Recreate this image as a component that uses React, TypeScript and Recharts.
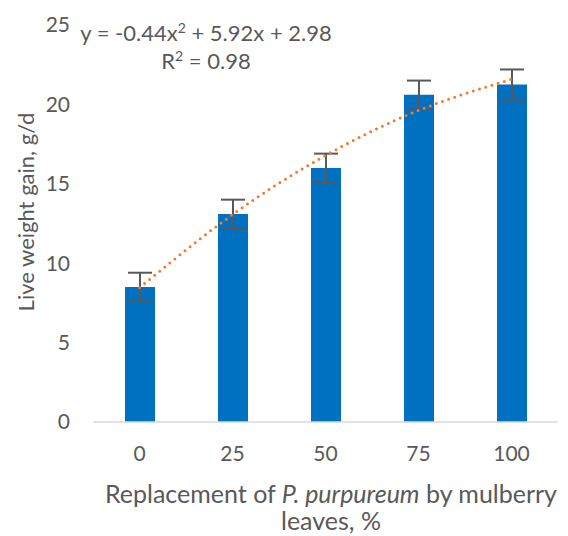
import React from 'react';
import { ComposedChart, Bar, Line, XAxis, YAxis, ErrorBar } from 'recharts';

// replacement level, %
const levels = ['0', '25', '50', '75', '100'];
// live weight gain, g/d
const gain = [8.5, 13.1, 16.0, 20.6, 21.25];
// standard error
const errors = [0.9, 0.9, 0.9, 0.9, 0.95];
// fitted polynomial trend, read at each level
const trend = [8.46, 13.06, 16.78, 19.62, 21.58];
const yTicks = [0, 5, 10, 15, 20, 25];

const textColor = '#595959';
const font = 'Lato, "Open Sans", sans-serif';

const data = levels.map((l, i) => ({
  level: l,
  gain: gain[i],
  err: errors[i],
  trend: trend[i],
}));

export default function App() {
  return (
    <div style={{ position: 'absolute', left: 0, top: 0, width: 568, height: 536, background: '#fff', fontFamily: font, overflow: 'hidden' }}>
      <ComposedChart
        width={568}
        height={536}
        data={data}
        margin={{ top: 25, right: 10, bottom: 0, left: 0 }}
        barCategoryGap="68%"
      >
        <XAxis
          dataKey="level"
          height={114}
          tickLine={false}
          tickSize={0}
          tickMargin={24}
          axisLine={{ stroke: '#d9d9d9', strokeWidth: 1.5 }}
          tick={{ fill: textColor, fontSize: 21, fontFamily: font }}
        />
        <YAxis
          width={93}
          domain={[0, 25]}
          ticks={yTicks}
          axisLine={false}
          tickLine={false}
          tickSize={0}
          tickMargin={23}
          tick={{ fill: textColor, fontSize: 21, fontFamily: font }}
        />
        <Bar dataKey="gain" fill="#0070C0" barSize={30} isAnimationActive={false}>
          <ErrorBar dataKey="err" width={12} stroke={textColor} strokeWidth={2} direction="y" />
        </Bar>
        <Line
          dataKey="trend"
          type="natural"
          stroke="#ED7D31"
          strokeWidth={3}
          strokeDasharray="0 6.5"
          strokeLinecap="round"
          dot={false}
          activeDot={false}
          isAnimationActive={false}
        />
      </ComposedChart>

      {/* trendline equation */}
      <div style={{ position: 'absolute', left: 56, top: 19, width: 300, textAlign: 'center', color: textColor, fontSize: 22, lineHeight: '28px' }}>
        <div>y = -0.44x<sup style={{ fontSize: 14, lineHeight: 0 }}>2</sup> + 5.92x + 2.98</div>
        <div>R<sup style={{ fontSize: 14, lineHeight: 0 }}>2</sup> = 0.98</div>
      </div>

      {/* y axis title */}
      <div
        style={{
          position: 'absolute',
          left: 26 - 150,
          top: 212 - 15,
          width: 300,
          height: 30,
          lineHeight: '30px',
          textAlign: 'center',
          color: textColor,
          fontSize: 22,
          transform: 'rotate(-90deg)',
        }}
      >
        Live weight gain, g/d
      </div>

      {/* x axis title */}
      <div style={{ position: 'absolute', left: 31, top: 480, width: 600, textAlign: 'center', color: textColor, fontSize: 25, lineHeight: '27px' }}>
        <div>
          Replacement of <i>P. purpureum</i> by mulberry
        </div>
        <div>leaves, %</div>
      </div>
    </div>
  );
}
